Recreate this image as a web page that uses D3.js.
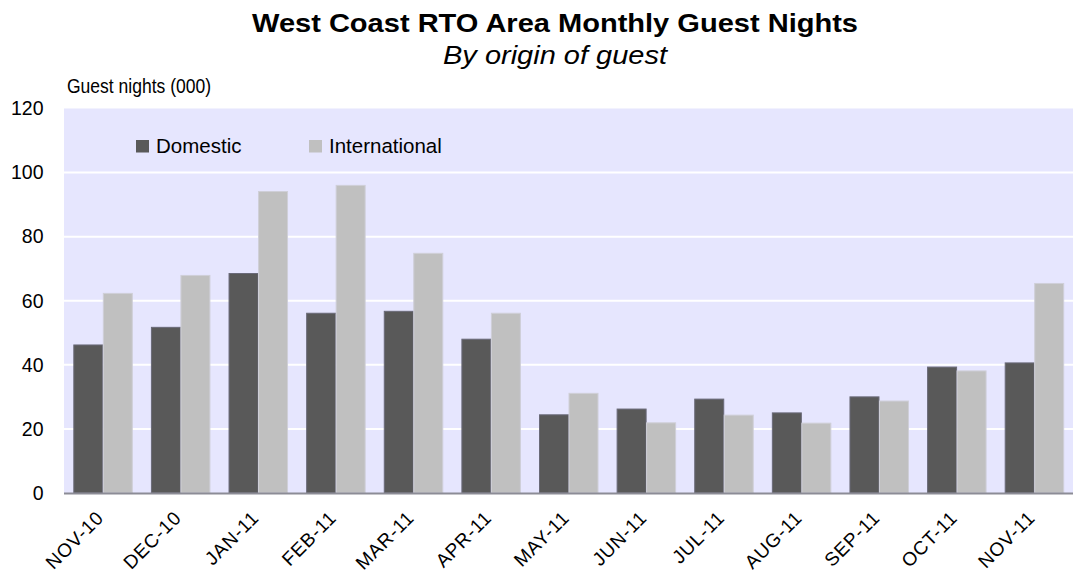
<!DOCTYPE html>
<html><head><meta charset="utf-8">
<script src="https://cdn.jsdelivr.net/npm/d3@7"></script>
<style>body{margin:0;background:#fff}svg{display:block}text{font-family:"Liberation Sans",Arial,sans-serif}</style>
</head><body><svg id="c" width="1075" height="578"></svg>
<script>
const categories = ["NOV-10","DEC-10","JAN-11","FEB-11","MAR-11","APR-11","MAY-11","JUN-11","JUL-11","AUG-11","SEP-11","OCT-11","NOV-11"];
const domestic = [46.2,51.7,68.5,56.1,56.7,48.0,24.4,26.2,29.3,25.0,30.0,39.3,40.6];
const international = [62.3,67.9,94.1,96.0,74.8,56.1,31.1,21.9,24.3,21.8,28.7,38.1,65.4];
const yTicks = [0,20,40,60,80,100,120];
const seriesNames = ["Domestic","International"];
const colors = ["#595959","#C0C0C0"];
const strokes = ["#6a6a78","#cfcfd8"];

const svg = d3.select("#c");
const L=64,R=1073,T=108.5,B=493;
const x = d3.scaleBand().domain(categories).range([L,R]).paddingInner(0.24).paddingOuter(0.12);
const x1 = d3.scaleBand().domain(seriesNames).range([0,x.bandwidth()]);
const y = d3.scaleLinear().domain([0,120]).range([B,T]);

svg.append("rect").attr("x",L).attr("y",T).attr("width",R-L).attr("height",B-T).attr("fill","#E6E6FE");
svg.append("g").selectAll("line").data(yTicks.filter(d=>d>0&&d<120)).join("line")
  .attr("x1",L).attr("x2",R).attr("y1",d=>y(d)).attr("y2",d=>y(d)).attr("stroke","#fff").attr("stroke-width",2);

const series=[domestic,international];
series.forEach((vals,si)=>{
  svg.append("g").selectAll("rect").data(categories).join("rect")
    .attr("x",(c)=>x(c)+x1(seriesNames[si])+0.5)
    .attr("y",(c,i)=>y(vals[i]))
    .attr("width",x1.bandwidth()-0.5)
    .attr("height",(c,i)=>B-y(vals[i]))
    .attr("fill",colors[si]).attr("stroke",strokes[si]).attr("stroke-width",1);
});

svg.append("line").attr("x1",L).attr("x2",R).attr("y1",B+0.5).attr("y2",B+0.5).attr("stroke","#8c8c96").attr("stroke-width",2);

// y axis
const ya = svg.append("g").attr("transform",`translate(${L},0)`).call(d3.axisLeft(y).tickValues(yTicks).tickSize(0).tickPadding(20.5));
ya.select(".domain").remove();
ya.selectAll("text").attr("font-size",19.5).attr("fill","#000").attr("font-family","Liberation Sans, Arial, sans-serif");

// x axis
const xa = svg.append("g").attr("transform",`translate(0,${B})`).call(d3.axisBottom(x).tickSize(0));
xa.select(".domain").remove();
xa.selectAll("text").attr("font-size",19).attr("fill","#000").attr("font-family","Liberation Sans, Arial, sans-serif")
  .attr("letter-spacing",0.8)
  .attr("text-anchor","end").attr("y",0).attr("dy",0).attr("transform","translate(2,26) rotate(-45)");

// titles
svg.append("text").attr("x",555).attr("y",32).attr("text-anchor","middle").attr("font-size",26.5).attr("font-weight","bold")
  .attr("textLength",606).attr("lengthAdjust","spacingAndGlyphs").text("West Coast RTO Area Monthly Guest Nights");
svg.append("text").attr("x",555).attr("y",63.5).attr("text-anchor","middle").attr("font-size",25).attr("font-style","italic")
  .attr("textLength",224).attr("lengthAdjust","spacingAndGlyphs").text("By origin of guest");
svg.append("text").attr("x",67).attr("y",93).attr("font-size",20)
  .attr("textLength",144).attr("lengthAdjust","spacingAndGlyphs").text("Guest nights (000)");

// legend
const lg=[{x:136,tx:156},{x:309,tx:329}];
seriesNames.forEach((n,i)=>{
  svg.append("rect").attr("x",lg[i].x).attr("y",140).attr("width",13).attr("height",12.5).attr("fill",colors[i]);
  svg.append("text").attr("x",lg[i].tx).attr("y",152.5).attr("font-size",20.5).text(n);
});
</script></body></html>
